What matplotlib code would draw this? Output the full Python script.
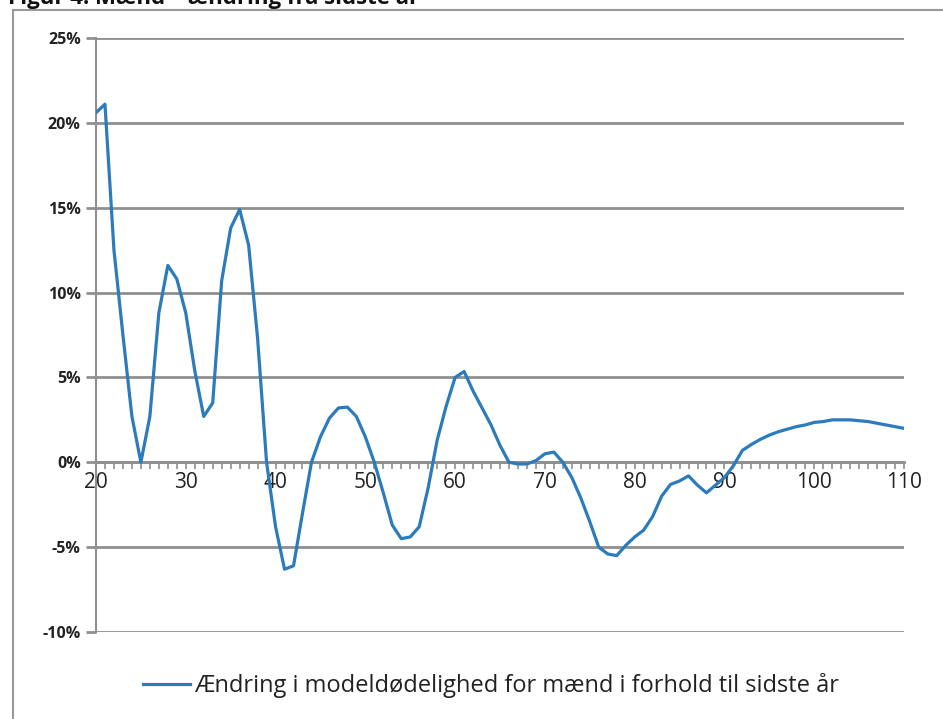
import matplotlib
matplotlib.use("Agg")
import matplotlib.pyplot as plt
from matplotlib.lines import Line2D
from matplotlib.ticker import MultipleLocator, FuncFormatter

plt.rcParams['font.family'] = ['Open Sans', 'DejaVu Sans']

# Age and change in model mortality (percent) relative to the previous year
ages = list(range(20, 111))
change_pct = [
    20.6, 21.1, 12.5, 7.5, 2.7, 0.0, 2.7, 8.8, 11.6, 10.8,      # 20-29
    8.8, 5.4, 2.7, 3.5, 10.7, 13.8, 14.9, 12.8, 7.3, 0.0,       # 30-39
    -3.8, -6.3, -6.1, -3.0, 0.0, 1.5, 2.6, 3.2, 3.25, 2.7,      # 40-49
    1.5, 0.0, -1.8, -3.7, -4.5, -4.4, -3.8, -1.5, 1.3, 3.3,     # 50-59
    5.0, 5.35, 4.2, 3.2, 2.2, 1.0, 0.0, -0.1, -0.1, 0.1,        # 60-69
    0.5, 0.6, 0.0, -0.9, -2.1, -3.5, -5.0, -5.4, -5.5, -4.9,    # 70-79
    -4.4, -4.0, -3.2, -2.0, -1.3, -1.1, -0.8, -1.35, -1.8, -1.35,  # 80-89
    -0.9, -0.2, 0.7, 1.05, 1.35, 1.6, 1.8, 1.95, 2.1, 2.2,      # 90-99
    2.35, 2.4, 2.5, 2.5, 2.5, 2.45, 2.4, 2.3, 2.2, 2.1,         # 100-109
    2.0,                                                        # 110
]
x_ticks = [20, 30, 40, 50, 60, 70, 80, 90, 100, 110]
y_ticks = [-10, -5, 0, 5, 10, 15, 20, 25]
series_label = "Ændring i modeldødelighed for mænd i forhold til sidste år"
title = "Figur 4: Mænd – ændring fra sidste år"

W, H = 943, 719
fig = plt.figure(figsize=(W / 100, H / 100), dpi=100)
fig.patch.set_facecolor("white")

ax = fig.add_axes([96 / W, (H - 632) / H, (904 - 96) / W, (632 - 38) / H])

line_color = "#2b7bbd"
grid_color = "#8f8f8f"
text_color = "#222222"

ax.plot(ages, change_pct, color=line_color, lw=2.3, solid_joinstyle="round",
        label=series_label, zorder=3)

ax.set_xlim(20, 110)
ax.set_ylim(-10, 25)

# Horizontal gridlines every 5 %
ax.set_yticks(y_ticks)
ax.yaxis.set_major_formatter(FuncFormatter(lambda v, _: f"{int(v)}%"))
ax.grid(axis="y", color=grid_color, lw=2.0, zorder=1)
ax.grid(axis="x", visible=False)

# x-axis sits on the zero line with a tick per year
ax.set_xticks(x_ticks)
ax.xaxis.set_minor_locator(MultipleLocator(1))
ax.spines["bottom"].set_position(("data", 0))
ax.spines["bottom"].set_color(grid_color)
ax.spines["bottom"].set_linewidth(2.0)
ax.spines["left"].set_color(grid_color)
ax.spines["left"].set_linewidth(1.5)
ax.spines["top"].set_visible(False)
ax.spines["right"].set_visible(False)

ax.tick_params(axis="x", which="both", direction="out", length=5, width=1.2,
               color=grid_color, pad=2, labelsize=15, labelcolor=text_color)
ax.tick_params(axis="y", which="major", direction="out", length=7, width=2,
               color=grid_color, pad=4, labelsize=11.5, labelcolor=text_color)
for lbl in ax.get_yticklabels():
    lbl.set_fontweight("bold")

# Legend below the plot
leg = fig.legend(loc="center", bbox_to_anchor=(491 / W, 1 - 686 / H),
                 frameon=False, fontsize=17, handlelength=2.0,
                 handletextpad=0.2, labelcolor=text_color)

# Chart frame (left and top edges) and the title above it
frame_kw = dict(color="#9a9a9a", lw=1.5, transform=fig.transFigure)
fig.add_artist(Line2D([13 / W, 13 / W], [0, 1 - 10 / H], **frame_kw))
fig.add_artist(Line2D([13 / W, 1], [1 - 10 / H, 1 - 10 / H], **frame_kw))
fig.text(8 / W, 1 - 4 / H, title, fontsize=16, fontweight="bold",
         color="#111111", va="baseline", ha="left")

fig.savefig("out.png", dpi=100, facecolor="white")
